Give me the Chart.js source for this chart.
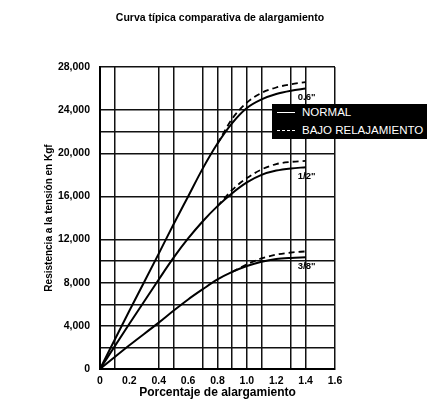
<!DOCTYPE html>
<html lang="es">
<head>
<meta charset="UTF-8">
<title>Curva típica comparativa de alargamiento</title>
<script src="https://cdn.jsdelivr.net/npm/chart.js"></script>
<style>
  html, body { margin: 0; padding: 0; background: #fff; }
  .wrap { position: relative; width: 433px; height: 409px; }
  #legend { position: absolute; left: 272px; top: 104px; width: 155px; height: 35px; background: #000; color: #fff;
            font: 11.5px "Liberation Sans", Arial, sans-serif; }
  #legend .row { position: absolute; left: 0; height: 14px; line-height: 14px; width: 100%; }
  #legend .sample { position: absolute; left: 5px; top: 7px; width: 18px; border-top: 1.5px solid #fff; }
  #legend .sample.dash { border-top: 1px dashed #fff; }
  #legend .txt { position: absolute; left: 30px; top: 0; white-space: nowrap; }
</style>
</head>
<body>
<div class="wrap">
  <canvas id="chart" width="433" height="409"></canvas>
  <div id="legend">
    <div class="row" style="top:1px"><span class="sample"></span><span class="txt">NORMAL</span></div>
    <div class="row" style="top:19px"><span class="sample dash"></span><span class="txt">BAJO RELAJAMIENTO</span></div>
  </div>
</div>

<script>
// % de alargamiento
const elongation = [0, 0.2, 0.4, 0.5, 0.6, 0.7, 0.8, 0.9, 1.0, 1.1, 1.2, 1.3, 1.4];

// resistencia (Kgf) - normal / bajo relajamiento
const normal06 = [0, 5400, 10700, 13400, 16000, 18600, 20900, 22800, 24200, 25000, 25500, 25800, 26000];
const bajo06   = [null, null, null, null, null, null, 20900, 23200, 24700, 25600, 26100, 26400, 26600];
const normal12 = [0, 4200, 8300, 10300, 12100, 13700, 15100, 16300, 17300, 18000, 18400, 18600, 18700];
const bajo12   = [null, null, null, null, null, null, 15100, 16600, 17700, 18500, 19000, 19200, 19300];
const normal38 = [0, 2200, 4300, 5400, 6450, 7400, 8300, 9000, 9550, 9950, 10200, 10300, 10350];
const bajo38   = [null, null, null, null, null, null, null, 9000, 9700, 10250, 10600, 10800, 10900];

const sizeLabels = ['0.6"', '1/2"', '3/8"'];
const chartTitle = 'Curva típica comparativa de alargamiento';

// lineas de la cuadricula que aparecen en el original
const xGridAt = [0, 1, 4, 5, 7, 8, 9, 10, 11, 13, 14, 16];          // en décimas
const yGridAt = [0, 2, 4, 6, 8, 10, 12, 16, 20, 22, 24, 28];        // en miles

function pts(ys) {
    return elongation.map((x, i) => ({ x: x, y: ys[i] })).filter(p => p.y !== null);
}

function serie(ys, dashed) {
    return {
        data: pts(ys),
        borderColor: '#000',
        borderWidth: dashed ? 1.8 : 2,
        borderDash: dashed ? [6, 4] : [],
        pointRadius: 0,
        fill: false,
        cubicInterpolationMode: 'monotone'
    };
}

const FONT = '"Liberation Sans", Arial, sans-serif';

// titulo y etiquetas de diametro
const extrasPlugin = {
    id: 'extras',
    afterDraw(chart) {
        const ctx = chart.ctx;
        ctx.save();
        ctx.fillStyle = '#000';
        ctx.textAlign = 'center';
        ctx.textBaseline = 'middle';
        ctx.font = 'bold 10.5px ' + FONT;
        ctx.fillText(chartTitle, 220, 18);
        ctx.font = 'bold 9.5px ' + FONT;
        [0, 2, 4].forEach((di, k) => {
            const meta = chart.getDatasetMeta(di);
            const last = meta.data[meta.data.length - 1];
            ctx.fillText(sizeLabels[k], last.x + 1, last.y + 9);
        });
        ctx.restore();
    }
};

new Chart(document.getElementById('chart'), {
    type: 'line',
    data: {
        datasets: [
            serie(normal06, false), serie(bajo06, true),
            serie(normal12, false), serie(bajo12, true),
            serie(normal38, false), serie(bajo38, true)
        ]
    },
    options: {
        responsive: false,
        animation: false,
        layout: { padding: { left: 0, right: 98, top: 67, bottom: 0 } },
        plugins: {
            legend: { display: false },
            tooltip: { enabled: false },
            title: { display: false }
        },
        scales: {
            x: {
                type: 'linear',
                min: 0, max: 1.6,
                ticks: {
                    stepSize: 0.1,
                    autoSkip: false,
                    maxRotation: 0,
                    color: '#000',
                    padding: 6,
                    font: { family: FONT, size: 10.5, weight: 'bold' },
                    callback: v => {
                        const d = Math.round(v * 10);
                        if (d % 2) return '';
                        return d === 0 ? '0' : (d / 10).toFixed(1);
                    }
                },
                grid: {
                    drawTicks: false,
                    lineWidth: 1.5,
                    color: c => xGridAt.includes(Math.round(c.tick.value * 10)) ? '#111' : 'rgba(0,0,0,0)'
                },
                border: { color: '#000', width: 2 },
                title: {
                    display: true,
                    text: 'Porcentaje de alargamiento',
                    color: '#000',
                    font: { family: FONT, size: 12, weight: 'bold' },
                    padding: { top: 0, bottom: 8.8 }
                },
                afterFit: s => { s.height = 40; }
            },
            y: {
                min: 0, max: 28000,
                ticks: {
                    stepSize: 2000,
                    autoSkip: false,
                    color: '#000',
                    padding: 10,
                    font: { family: FONT, size: 10.5, weight: 'bold' },
                    callback: v => (v % 4000 === 0 ? v.toLocaleString('en-US') : '')
                },
                grid: {
                    drawTicks: false,
                    lineWidth: 1.5,
                    color: c => yGridAt.includes(Math.round(c.tick.value / 1000)) ? '#111' : 'rgba(0,0,0,0)'
                },
                border: { color: '#000', width: 2 },
                title: {
                    display: true,
                    text: 'Resistencia a la tensión en Kgf',
                    color: '#000',
                    font: { family: FONT, size: 10, weight: 'bold' },
                    padding: { top: 43, bottom: 0 }
                },
                afterFit: s => { s.width = 100; }
            }
        }
    },
    plugins: [extrasPlugin]
});
</script>
</body>
</html>
